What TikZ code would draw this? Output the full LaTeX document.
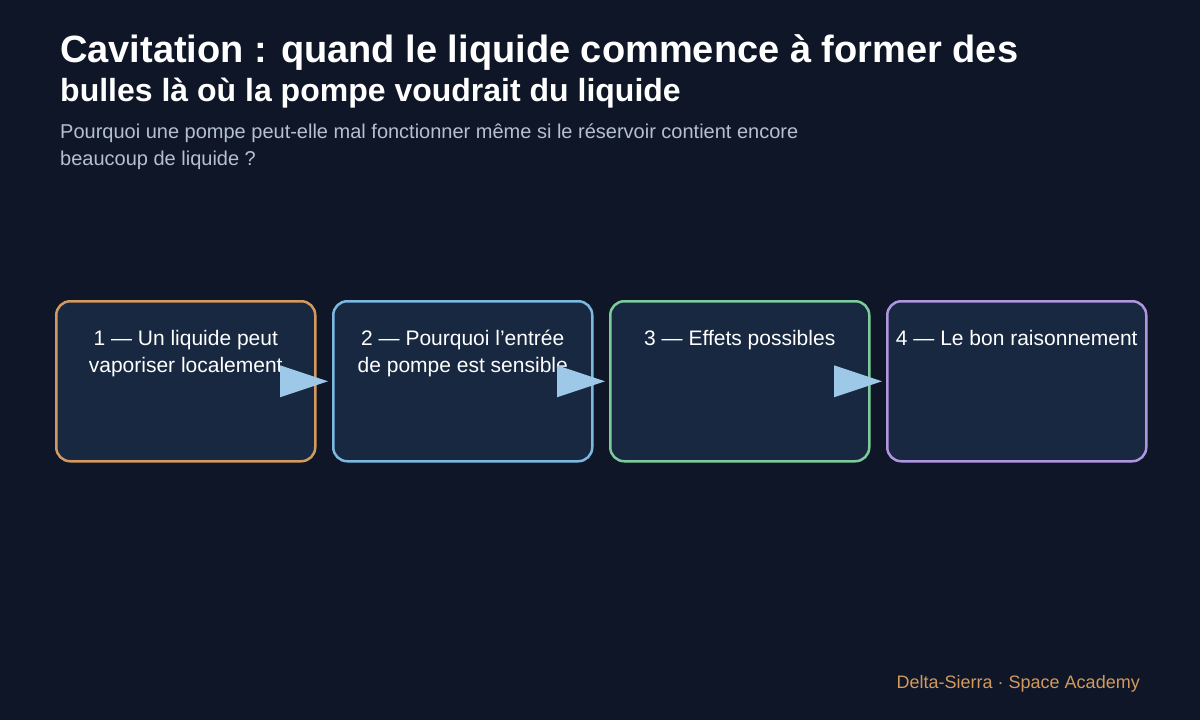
\documentclass[tikz,border=0pt]{standalone}
\usepackage{fontspec}
\setmainfont{Liberation Sans}
\usetikzlibrary{positioning, calc}
\definecolor{bgdark}{HTML}{0E1627}
\definecolor{boxfill}{HTML}{172840}
\definecolor{borange}{HTML}{D29A5E}
\definecolor{bblue}{HTML}{7DB8E0}
\definecolor{bgreen}{HTML}{7CCB9A}
\definecolor{bpurple}{HTML}{B095E0}
\definecolor{arrowblue}{HTML}{9EC8E8}
\definecolor{subgrey}{HTML}{B4C0D0}
\tikzset{
    stepbox/.style={rectangle, rounded corners=14pt, minimum width=259pt, minimum height=160pt, fill=boxfill, line width=2.5pt, anchor=north west},
    steplbl/.style={font=\fontsize{21}{27}\selectfont, text=white, align=center, anchor=north},
    tri/.style={fill=arrowblue},
}
\begin{document}
\begin{tikzpicture}[x=1pt, y=-1pt]
\fill[bgdark] (0,0) rectangle (1200,720);
\useasboundingbox (0,0) rectangle (1200,720);

% Title block
\node[anchor=base west, font=\fontsize{38}{44}\selectfont\bfseries, text=white, inner sep=0] (title1) at (60,62) {Cavitation : quand le liquide commence à former des};
\node[anchor=base west, font=\fontsize{32}{38}\selectfont\bfseries, text=white, inner sep=0] (title2) at (60,101) {bulles là où la pompe voudrait du liquide};
\node[anchor=north west, font=\fontsize{20}{27}\selectfont, text=subgrey, align=left, inner sep=0] (sub) at (60,124) {Pourquoi une pompe peut-elle mal fonctionner même si le réservoir contient encore\\beaucoup de liquide ?};

% Steps
\node[stepbox, draw=borange] (s1) at (55,300) {};
\node[stepbox, draw=bblue] (s2) at (332,300) {};
\node[stepbox, draw=bgreen] (s3) at (609,300) {};
\node[stepbox, draw=bpurple] (s4) at (886,300) {};

\node[steplbl] (l1) at ($(s1.north)+(0,27)$) {1 — Un liquide peut\\vaporiser localement};
\node[steplbl] (l2) at ($(s2.north)+(0,27)$) {2 — Pourquoi l’entrée\\de pompe est sensible};
\node[steplbl] (l3) at ($(s3.north)+(0,27)$) {3 — Effets possibles};
\node[steplbl] (l4) at ($(s4.north)+(0,27)$) {4 — Le bon raisonnement};

% Arrows
\foreach \b in {s2, s3, s4}{
    \coordinate (tip-\b) at ($(\b.west)+(-4,0)$);
    \fill[tri] (tip-\b) -- ++(-48,-16) -- ++(0,32) -- cycle;
}

% Footer
\node[anchor=east, font=\fontsize{18}{22}\selectfont, text=borange, inner sep=0] (foot) at (1140,684) {Delta-Sierra · Space Academy};
\end{tikzpicture}
\end{document}
